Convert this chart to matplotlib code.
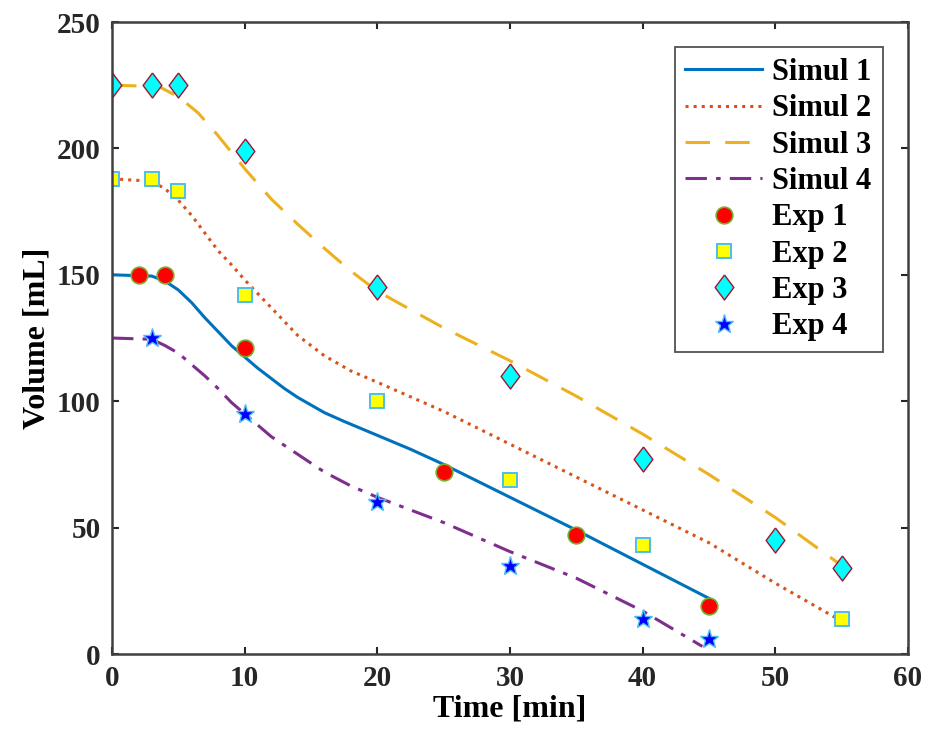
import matplotlib
matplotlib.use("Agg")
import matplotlib.pyplot as plt

plt.rcParams['font.family'] = ['Liberation Serif', 'DejaVu Serif']
plt.rcParams['font.weight'] = 'bold'

# simulated curves
t_sim1 = [0, 3, 4, 5, 6, 7, 8, 9, 10, 11, 12, 13, 14, 15, 16, 17.5, 20, 22.5, 25, 27.5, 30, 35, 40, 45]
v_sim1 = [150, 149.5, 147.5, 144, 139, 133, 127.5, 122, 117.5, 113, 109, 105, 101.5, 98.5, 95.5,
          92, 86.5, 81, 75, 68.5, 62, 49, 35.5, 22]
t_sim2 = [0, 3, 4, 5, 6, 7, 8, 9, 10, 12, 14, 16, 18, 20, 25, 30, 35, 40, 45, 50, 55]
v_sim2 = [188, 187, 184, 179.5, 173.5, 166.5, 159.5, 154, 148, 137, 126, 118, 112, 107.5,
          96, 83, 70, 57, 44, 28, 13]
t_sim3 = [0, 3.5, 5, 6.5, 8, 10, 12, 14, 16, 18, 20, 25, 30, 35, 40, 45, 50, 55]
v_sim3 = [225, 224.5, 220.5, 214, 205, 192, 180, 170, 160.5, 151.5, 143.5, 129, 116, 102,
          87, 71, 54, 35]
t_sim4 = [0, 3, 4, 5, 6, 7, 8, 9, 10, 12, 14, 16, 18, 20, 25, 30, 35, 40, 44.5]
v_sim4 = [125, 124.5, 122, 119, 114.5, 110, 105, 99.5, 95, 86, 79, 72, 66.5, 62, 52, 40.5,
          30, 17, 3]

# experimental points
t_exp1 = [2, 4, 10, 25, 35, 45]
v_exp1 = [150, 150, 121, 72, 47, 19]
t_exp2 = [0, 3, 5, 10, 20, 30, 40, 55]
v_exp2 = [188, 188, 183, 142, 100, 69, 43, 14]
t_exp3 = [0, 3, 5, 10, 20, 30, 40, 50, 55]
v_exp3 = [225, 225, 225, 199, 145, 110, 77, 45, 34]
t_exp4 = [3, 10, 20, 30, 40, 45]
v_exp4 = [125, 95, 60, 35, 14, 6]

fig = plt.figure(figsize=(9.29, 7.49), dpi=100)
ax = fig.add_axes([0.1206, 0.1268, 0.8568, 0.8438])

ax.plot(t_sim1, v_sim1, '-', color='#0072BD', linewidth=2.2, label='Simul 1')
ax.plot(t_sim2, v_sim2, ':', color='#D95319', linewidth=2.2, label='Simul 2')
ax.plot(t_sim3, v_sim3, color='#EDB120', linewidth=2.2, dashes=(8, 5), label='Simul 3')
ax.plot(t_sim4, v_sim4, color='#7E2F8E', linewidth=2.2, dashes=(7, 3, 1.5, 3), label='Simul 4')

diamond = [(0, 1), (0.75, 0), (0, -1), (-0.75, 0), (0, 1)]
ax.plot(t_exp1, v_exp1, 'o', linestyle='none', markersize=12, markerfacecolor='red',
        markeredgecolor='#77AC30', markeredgewidth=1.2, label='Exp 1')
ax.plot(t_exp2, v_exp2, 's', linestyle='none', markersize=10, markerfacecolor='yellow',
        markeredgecolor='#4DBEEE', markeredgewidth=1.4, label='Exp 2')
ax.plot(t_exp3, v_exp3, marker=diamond, linestyle='none', markersize=18, markerfacecolor='cyan',
        markeredgecolor='#A2142F', markeredgewidth=1.0, label='Exp 3')
ax.plot(t_exp4, v_exp4, '*', linestyle='none', markersize=14, markerfacecolor='blue',
        markeredgecolor='#4DBEEE', markeredgewidth=1.0, label='Exp 4')

ax.set_xlim(0, 60)
ax.set_ylim(0, 250)
ax.set_xticks([0, 10, 20, 30, 40, 50, 60])
ax.set_yticks([0, 50, 100, 150, 200, 250])
ax.tick_params(direction='in', length=5, width=1.5, labelsize=21, top=True, right=True,
               colors='#262626', labelcolor='#262626', pad=8)
for s in ax.spines.values():
    s.set_linewidth(1.8)
    s.set_color('#404040')

ax.set_xlabel('Time [min]', fontsize=23, fontweight='bold', labelpad=2)
ax.set_ylabel('Volume [mL]', fontsize=23, fontweight='bold', labelpad=4)

leg = ax.legend(loc='upper right', bbox_to_anchor=(0.968, 0.96), fontsize=22, frameon=True,
                fancybox=False, edgecolor='#262626', handlelength=2.5, labelspacing=0.24,
                borderpad=0.35, handletextpad=0.35, borderaxespad=0)
leg.get_frame().set_linewidth(1.3)

fig.savefig('out.png', dpi=100)
